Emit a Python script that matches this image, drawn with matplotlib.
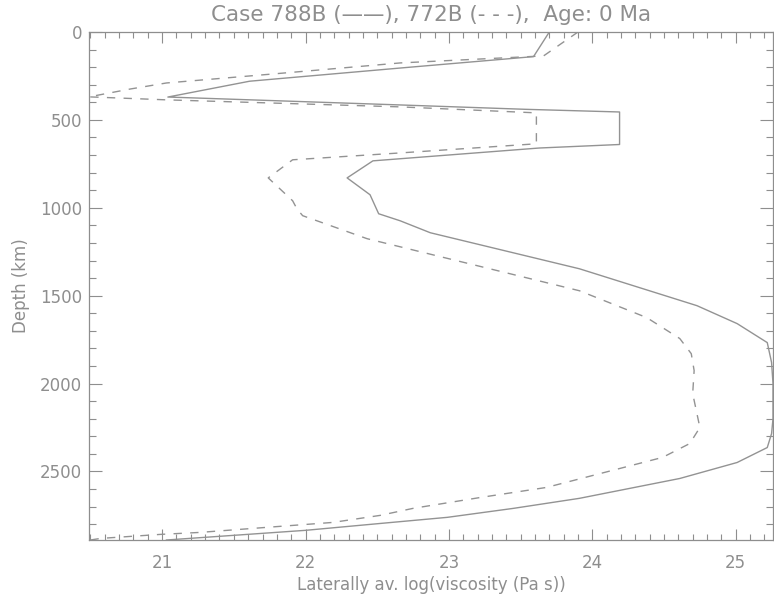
"""Laterally averaged viscosity profiles, cases 788B and 772B."""

import matplotlib

matplotlib.use("Agg")

import matplotlib.pyplot as plt
from matplotlib.ticker import MultipleLocator

# Case 788B (solid): depth (km) and log10 viscosity (Pa s)
depth_788b = [0, 140, 205, 280, 370, 415, 440, 455, 640, 660, 733, 830, 926,
              1034, 1074, 1142, 1347, 1557, 1659, 1767, 1880, 2000, 2100,
              2200, 2285, 2364, 2449, 2540, 2653, 2710, 2761, 2796, 2835,
              2864, 2890]
visc_788b = [23.70, 23.59, 22.66, 21.61, 21.04, 22.66, 23.54, 24.19, 24.19,
             23.63, 22.47, 22.29, 22.45, 22.51, 22.66, 22.87, 23.91, 24.73,
             25.01, 25.22, 25.25, 25.26, 25.26, 25.26, 25.25, 25.22, 25.01,
             24.61, 23.91, 23.45, 22.99, 22.52, 22.00, 21.49, 21.03]

# Case 772B (dashed)
depth_772b = [0, 136, 176, 239, 290, 324, 369, 386, 426, 460, 636, 688, 727,
              830, 960, 1006, 1045, 1176, 1472, 1625, 1744, 1830, 1926, 2057,
              2250, 2341, 2420, 2494, 2591, 2648, 2710, 2750, 2790, 2818,
              2847, 2858, 2881, 2890]
visc_772b = [23.90, 23.66, 22.66, 21.77, 21.03, 20.78, 20.49, 21.03, 22.66,
             23.61, 23.61, 22.66, 21.91, 21.74, 21.91, 21.94, 21.98, 22.43,
             23.91, 24.38, 24.61, 24.69, 24.71, 24.70, 24.75, 24.68, 24.49,
             24.14, 23.68, 23.22, 22.75, 22.52, 22.19, 21.73, 21.26, 20.99,
             20.57, 20.50]

_INK = "#8e8e8e"
_LINE = "#939393"

plt.rcParams["font.family"] = ["DejaVu Sans"]

fig = plt.figure(figsize=(7.74, 5.97), dpi=100, facecolor="white")
ax = fig.add_axes((89 / 774, 57 / 597, 684 / 774, 508 / 597))

ax.plot(visc_788b, depth_788b, color=_LINE, linewidth=1.0)
ax.plot(visc_772b, depth_772b, color=_LINE, linewidth=1.0, dashes=(6, 6))

# exact data range on x, as the original plotting package does
all_visc = visc_788b + visc_772b
ax.set_xlim(min(all_visc), max(all_visc))
ax.set_ylim(2890, 0)

ax.xaxis.set_major_locator(MultipleLocator(1))
ax.xaxis.set_minor_locator(MultipleLocator(0.1))
ax.yaxis.set_major_locator(MultipleLocator(500))
ax.yaxis.set_minor_locator(MultipleLocator(100))

for side in ax.spines.values():
    side.set_color(_INK)
    side.set_linewidth(0.9)

ax.tick_params(which="both", direction="in", top=True, right=True,
               color=_INK, labelcolor=_INK, labelsize=12, width=0.8)
ax.tick_params(axis="x", which="major", length=8, pad=10)
ax.tick_params(axis="x", which="minor", length=4)
ax.tick_params(axis="y", which="major", length=9.5, pad=5)
ax.tick_params(axis="y", which="minor", length=5)

ax.set_title("Case 788B (——), 772B (- - -),  Age: 0 Ma",
             color=_INK, fontsize=15.5, pad=8)
ax.set_xlabel("Laterally av. log(viscosity (Pa s))", color=_INK,
              fontsize=12, labelpad=3)
ax.set_ylabel("Depth (km)", color=_INK, fontsize=12, labelpad=7)

fig.savefig("out.png", dpi=100, facecolor=fig.get_facecolor())
plt.close(fig)
